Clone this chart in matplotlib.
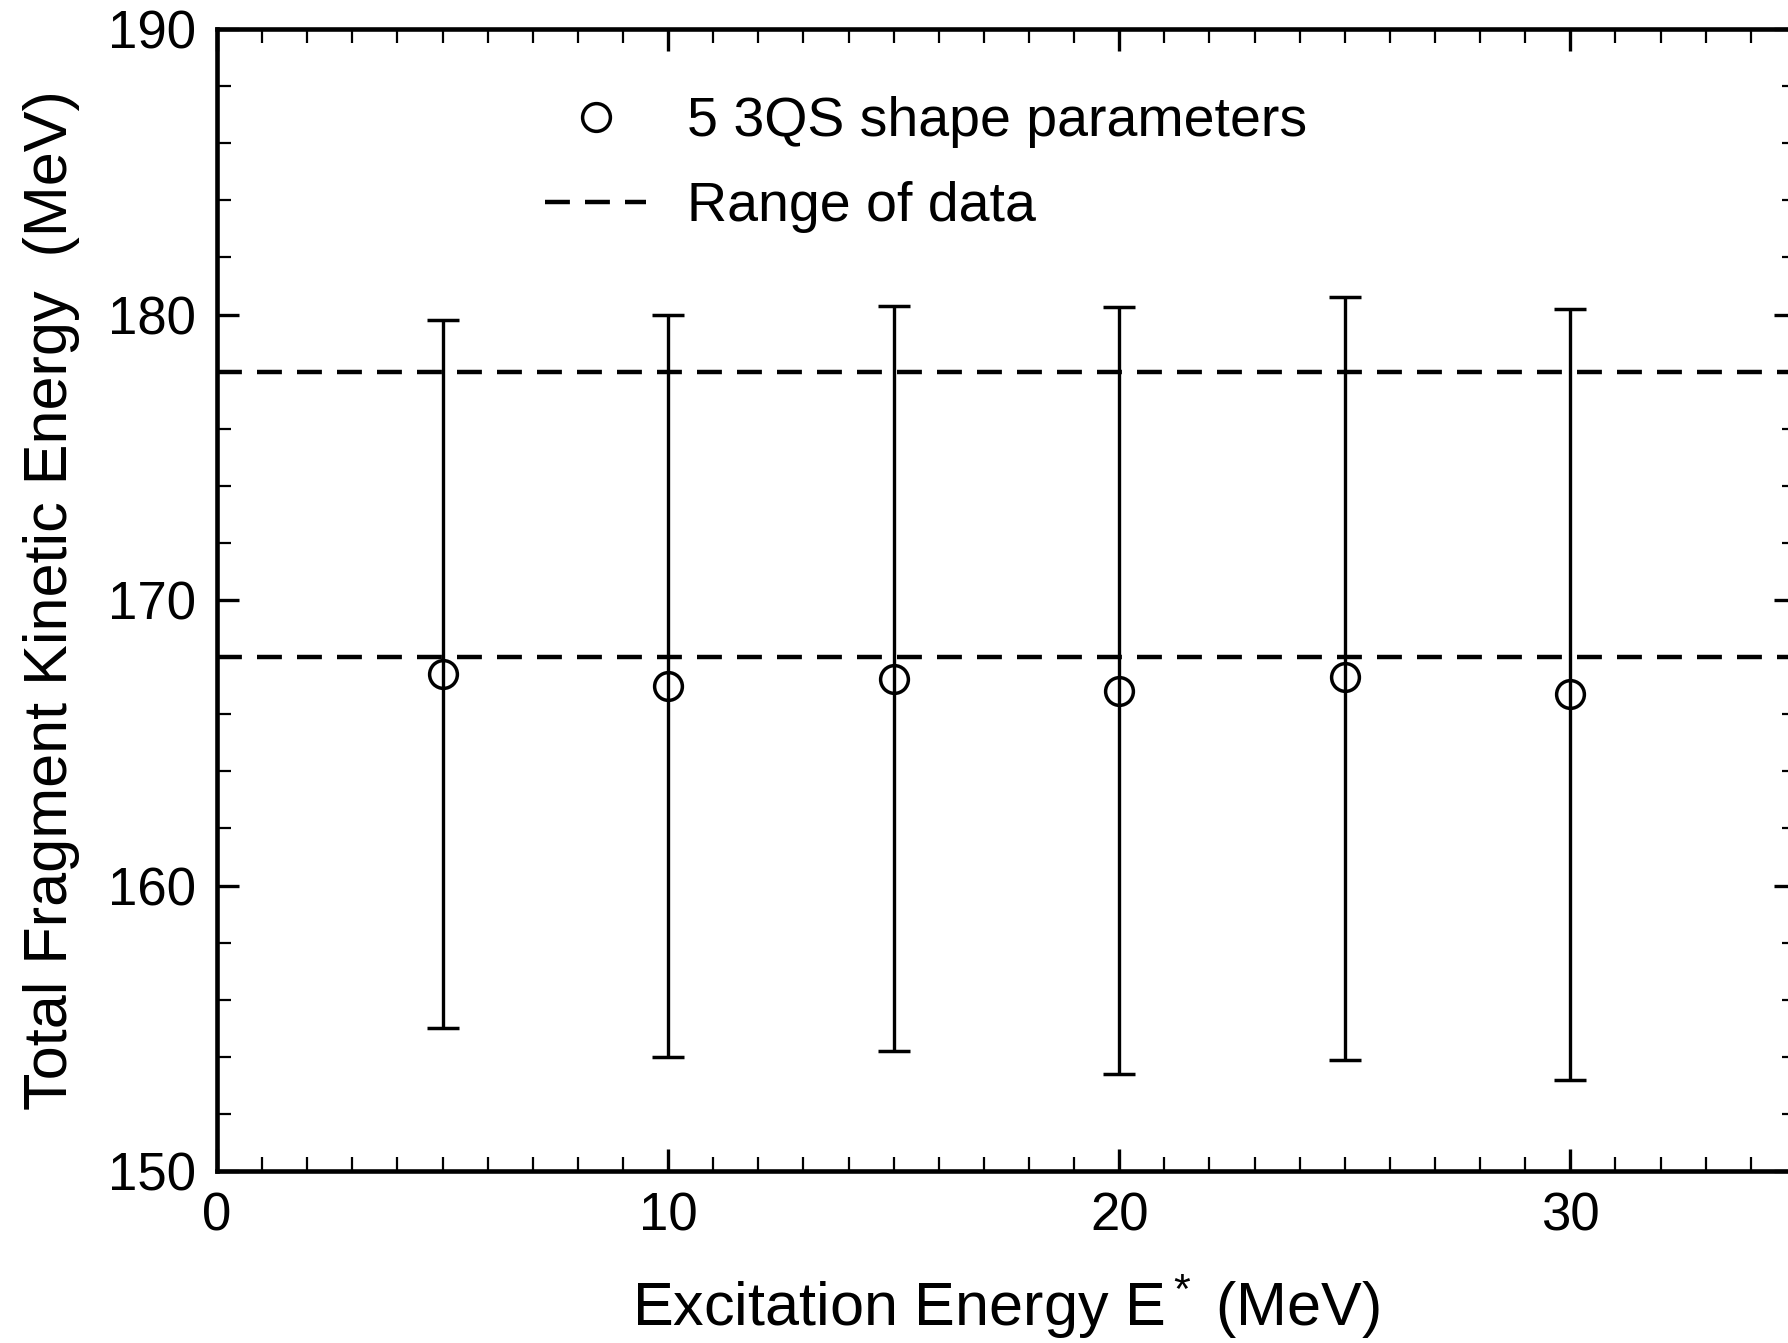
import numpy as np
import matplotlib.pyplot as plt
from matplotlib.lines import Line2D
from matplotlib.ticker import MultipleLocator

plt.rcParams['font.family'] = ['Liberation Sans', 'DejaVu Sans']
plt.rcParams['mathtext.fontset'] = 'custom'
plt.rcParams['mathtext.rm'] = 'Liberation Sans'
plt.rcParams['mathtext.it'] = 'Liberation Sans'

# data
excitation = [5, 10, 15, 20, 25, 30]
tke = [167.4, 167.0, 167.25, 166.8, 167.3, 166.7]
tke_upper = [179.8, 180.0, 180.3, 180.25, 180.6, 180.2]
tke_lower = [155.0, 154.0, 154.2, 153.4, 153.9, 153.2]
data_range = [178.0, 168.0]

tke = np.array(tke)
yerr = [tke - np.array(tke_lower), np.array(tke_upper) - tke]

fig = plt.figure(figsize=(17.88, 13.43), dpi=100)
ax = fig.add_axes([0.1214, 0.128, 0.883, 0.8504])

dash = (0, (5.6, 3.4))
for yv in data_range:
    ax.axhline(yv, color='black', lw=3.2, linestyle=dash)

ax.errorbar(excitation, tke, yerr=yerr, fmt='o', color='black', mfc='none',
            mec='black', ms=20, mew=2.5, elinewidth=2.4, capsize=11.5,
            capthick=2.4)

ax.set_xlim(0, 35)
ax.set_ylim(150, 190)
ax.xaxis.set_major_locator(MultipleLocator(10))
ax.xaxis.set_minor_locator(MultipleLocator(1))
ax.yaxis.set_major_locator(MultipleLocator(10))
ax.yaxis.set_minor_locator(MultipleLocator(2))
ax.tick_params(which='both', direction='in', top=True, right=True,
               labelsize=38, colors='black')
ax.tick_params(which='major', length=16, width=2.4, pad=15)
ax.tick_params(which='minor', length=10, width=1.6)
for s in ax.spines.values():
    s.set_linewidth(3.3)

ax.set_xlabel('Excitation Energy E$^*$ (MeV)', fontsize=44, labelpad=22)
ax.set_ylabel('Total Fragment Kinetic Energy  (MeV)', fontsize=44, labelpad=20)

handles = [Line2D([], [], ls='none', marker='o', mfc='none', mec='black',
                  ms=20, mew=2.5),
           Line2D([], [], color='black', lw=3.2, linestyle=dash)]
ax.legend(handles, ['5 3QS shape parameters', 'Range of data'],
          loc='upper left', bbox_to_anchor=(0.2077, 0.941), frameon=False,
          fontsize=40, handlelength=1.82, handletextpad=0.74,
          labelspacing=0.59, borderpad=0, borderaxespad=0)

fig.savefig('out.png', dpi=100)
